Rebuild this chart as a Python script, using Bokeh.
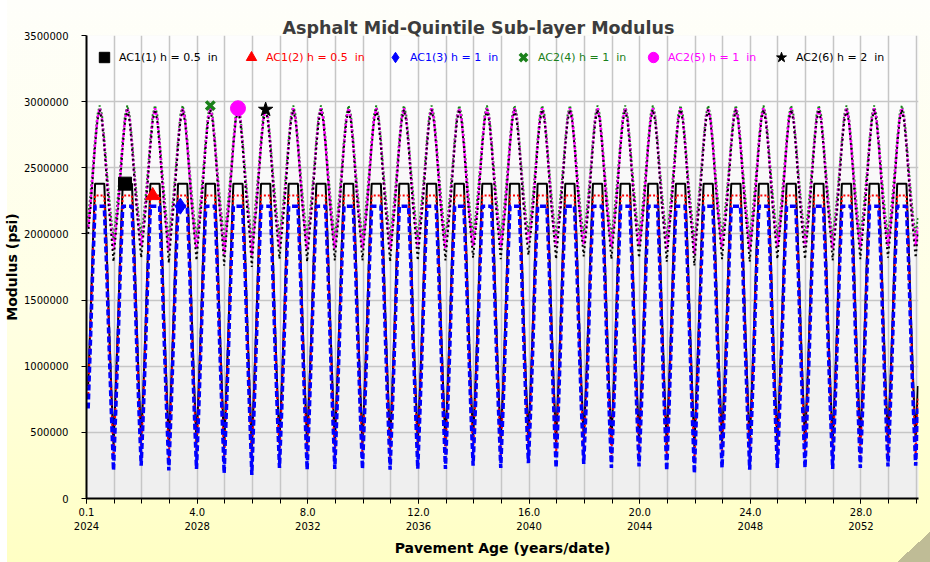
from bokeh.plotting import figure
from bokeh.models import (Range1d, FixedTicker, LinearAxis, Legend, LegendItem,
                          BoxAnnotation, ColumnDataSource)
from bokeh.embed import file_html
from bokeh.resources import INLINE

# ---------------- data ----------------
age_start = 0.06      # pavement age of the first monthly value (years)
n_months = 361        # number of monthly values
age_axis_end = 30.08  # right end of the age axis (years)

# Monthly profile of one analysis year (psi); None marks the summer low,
# which is taken from the per-year low lists below.
ac1_1_profile = [850000, 1350000, 1900000, 2380000, 2380000, 2380000, 2380000, 2380000, 1900000, 1350000, 850000, None]
ac1_2_profile = [760000, 1270000, 1820000, 2290000, 2290000, 2290000, 2290000, 2290000, 1820000, 1270000, 760000, None]
ac1_3_profile = [680000, 1190000, 1750000, 2210000, 2210000, 2210000, 2210000, 2210000, 1750000, 1190000, 680000, None]
ac2_4_profile = [2120000, 2300000, 2500000, 2720000, 2900000, 2970000, 2900000, 2720000, 2500000, 2300000, 2120000, None]
ac2_5_profile = [2050000, 2230000, 2450000, 2680000, 2870000, 2950000, 2870000, 2680000, 2450000, 2230000, 2050000, None]
ac2_6_profile = [2000000, 2190000, 2420000, 2660000, 2850000, 2940000, 2850000, 2660000, 2420000, 2190000, 2000000, None]

ac1_1_lows = [405000, 445000, 400000, 420000, 385000, 370000, 425000, 410000, 418000, 418000,
              410000, 418000, 420000, 445000, 425000, 460000, 425000, 455000, 425000, 435000,
              405000, 385000, 425000, 410000, 425000, 425000, 418000, 425000, 435000, 445000]
ac1_2_lows = [300000, 335000, 298000, 310000, 280000, 268000, 318000, 305000, 310000, 310000,
              305000, 310000, 312000, 335000, 318000, 350000, 318000, 345000, 318000, 328000,
              300000, 280000, 318000, 305000, 318000, 318000, 310000, 318000, 328000, 335000]
ac1_3_lows = [212000, 249000, 212000, 224000, 191000, 179000, 232000, 218000, 224000, 224000,
              218000, 224000, 224000, 249000, 232000, 267000, 232000, 262000, 232000, 242000,
              212000, 191000, 232000, 218000, 232000, 232000, 224000, 232000, 242000, 249000]
ac2_4_lows = [1960000, 1990000, 1950000, 1970000, 1930000, 1920000, 1980000, 1960000, 1970000, 1970000,
              1960000, 1970000, 1970000, 1990000, 1980000, 2010000, 1980000, 2000000, 1980000, 1990000,
              1960000, 1930000, 1980000, 1960000, 1980000, 1980000, 1970000, 1980000, 1990000, 1990000]
ac2_5_lows = [1880000, 1910000, 1870000, 1890000, 1850000, 1840000, 1900000, 1880000, 1890000, 1890000,
              1880000, 1890000, 1890000, 1910000, 1900000, 1930000, 1900000, 1920000, 1900000, 1910000,
              1880000, 1850000, 1900000, 1880000, 1900000, 1900000, 1890000, 1900000, 1910000, 1910000]
ac2_6_lows = [1790000, 1820000, 1780000, 1800000, 1760000, 1750000, 1810000, 1790000, 1800000, 1800000,
              1790000, 1800000, 1800000, 1820000, 1810000, 1840000, 1810000, 1830000, 1810000, 1820000,
              1790000, 1760000, 1810000, 1790000, 1810000, 1810000, 1800000, 1810000, 1820000, 1820000]

series_names = ["AC1(1) h = 0.5  in", "AC1(2) h = 0.5  in", "AC1(3) h = 1  in",
                "AC2(4) h = 1  in", "AC2(5) h = 1  in", "AC2(6) h = 2  in"]
marker_month = [16, 28, 40, 53, 65, 77]   # month index carrying each series' marker

x_tick_ages = [0, 4, 8, 12, 16, 20, 24, 28]
x_tick_age_labels = ["0.1", "4.0", "8.0", "12.0", "16.0", "20.0", "24.0", "28.0"]
x_tick_year_labels = ["2024", "2028", "2032", "2036", "2040", "2044", "2048", "2052"]
x_grid_years = list(range(0, 31))
y_ticks = [0, 500000, 1000000, 1500000, 2000000, 2500000, 3000000, 3500000]
y_tick_labels = ["0", "500000", "1000000", "1500000", "2000000", "2500000", "3000000", "3500000"]


def build(profile, lows):
    out = []
    for m in range(n_months):
        v = profile[m % 12]
        out.append(lows[m // 12] if v is None else v)
    return out


ages = [age_start + m / 12 for m in range(n_months)]
series_values = [build(ac1_1_profile, ac1_1_lows), build(ac1_2_profile, ac1_2_lows),
                 build(ac1_3_profile, ac1_3_lows), build(ac2_4_profile, ac2_4_lows),
                 build(ac2_5_profile, ac2_5_lows), build(ac2_6_profile, ac2_6_lows)]

# ---------------- styles ----------------
colors = ["#000000", "#FF0000", "#0000FF", "#1A801A", "#FF00FF", "#000000"]
dashes = ["solid", "2 2", "6 3", "2 2", "3 2", "2 3"]
widths = [2, 2, 3.5, 2, 2.5, 2]
markers = ["square", "triangle", "diamond", "x", "circle", "star"]
msizes = [13, 14, 16, 12, 15, 15]
legend_x = [5, 152, 296, 424, 554, 682]
FONT = "DejaVu Sans"

p = figure(width=930, height=562, output_backend="svg", toolbar_location=None,
           x_range=Range1d(0, age_axis_end), y_range=Range1d(0, 3500000),
           min_border_left=85, min_border_right=12, min_border_top=35, min_border_bottom=64,
           border_fill_color=None, background_fill_color="#F6F6F6", outline_line_color=None)
p.styles = {"background": (
    "linear-gradient(to bottom right, rgba(0,0,0,0) 50%, #BFBC96 50%) right bottom / 33px 30px no-repeat, "
    "linear-gradient(to right, #FFFFFF 7px, rgba(255,255,255,0) 7px), "
    "linear-gradient(to bottom, #FEFEFA 0%, #FFFFE4 55%, #FFFFC4 100%)")}

# plot-area shading (light at top, greyer at bottom)
band_colors = ["#EFEFEF", "#F2F2F2", "#F4F4F4", "#F6F6F6", "#F9F9F9", "#FBFBFB", "#FDFDFD"]
for i, c in enumerate(band_colors):
    p.add_layout(BoxAnnotation(bottom=y_ticks[i], top=y_ticks[i + 1], fill_color=c,
                               fill_alpha=1, line_color=None, level="image"))

p.title.text = "Asphalt Mid-Quintile Sub-layer Modulus"
p.title.text_font = FONT
p.title.text_font_size = "17.5px"
p.title.text_font_style = "bold"
p.title.text_color = "#3C3C3C"
p.title.align = "left"
p.title.offset = 196
p.title.standoff = -4

# grids
p.xgrid.ticker = FixedTicker(ticks=x_grid_years)
for g in (p.xgrid, p.ygrid):
    g.grid_line_color = "#C6C6C6"
    g.grid_line_width = 1.5

# x axes
xa = p.xaxis[0]
xa.ticker = FixedTicker(ticks=x_tick_ages, minor_ticks=x_grid_years)
xa.major_label_overrides = {t: l for t, l in zip(x_tick_ages, x_tick_age_labels)}
xa.major_tick_out = 5
xa.major_tick_in = 0
xa.minor_tick_out = 5
xa.minor_tick_in = 0
xa.minor_tick_line_color = "black"
xa.axis_line_width = 2
xa.major_label_standoff = 4
xa.major_label_text_font = FONT
xa.major_label_text_font_size = "10px"
xa.major_label_text_color = "black"

xa2 = LinearAxis(ticker=FixedTicker(ticks=x_tick_ages),
                 major_label_overrides={t: l for t, l in zip(x_tick_ages, x_tick_year_labels)})
xa2.axis_line_color = None
xa2.major_tick_line_color = None
xa2.minor_tick_line_color = None
xa2.major_tick_out = 0
xa2.major_tick_in = 0
xa2.major_label_standoff = 3
xa2.major_label_text_font = FONT
xa2.major_label_text_font_size = "10px"
xa2.major_label_text_color = "black"
xa2.axis_label = "Pavement Age (years/date)"
xa2.axis_label_text_font = FONT
xa2.axis_label_text_font_size = "14px"
xa2.axis_label_text_font_style = "bold"
xa2.axis_label_text_color = "black"
xa2.axis_label_standoff = 7
p.add_layout(xa2, "below")

# y axis
ya = p.yaxis[0]
ya.ticker = FixedTicker(ticks=y_ticks)
ya.major_label_overrides = {t: l for t, l in zip(y_ticks, y_tick_labels)}
ya.major_tick_out = 5
ya.major_tick_in = 0
ya.minor_tick_line_color = None
ya.axis_line_width = 2
ya.major_label_standoff = 13
ya.major_label_text_font = FONT
ya.major_label_text_font_size = "10px"
ya.major_label_text_color = "black"
ya.axis_label = "Modulus (psi)"
ya.axis_label_text_font = FONT
ya.axis_label_text_font_size = "14px"
ya.axis_label_text_font_style = "bold"
ya.axis_label_text_color = "black"
ya.axis_label_standoff = 1

# series lines
for vals, c, d, w in zip(series_values, colors, dashes, widths):
    p.line(ages, vals, line_color=c, line_dash=d, line_width=w)

# markers and one-item legends (coloured labels)
for i, vals in enumerate(series_values):
    m = marker_month[i]
    src = ColumnDataSource(dict(x=[ages[m]], y=[vals[m]]))
    if markers[i] == "x":
        r = p.scatter("x", "y", source=src, marker="x", size=msizes[i],
                      line_color=colors[i], line_width=3.5)
    else:
        r = p.scatter("x", "y", source=src, marker=markers[i], size=msizes[i],
                      fill_color=colors[i], line_color=colors[i])
    lg = Legend(items=[LegendItem(label=series_names[i], renderers=[r])],
                location=(legend_x[i], 428), orientation="horizontal",
                padding=0, margin=0, spacing=0, glyph_width=26, glyph_height=26,
                label_standoff=2, border_line_color=None, background_fill_alpha=0,
                label_text_font=FONT, label_text_font_size="11px",
                label_text_color=colors[i])
    p.add_layout(lg)

open("out.html", "w").write(file_html(p, INLINE))
